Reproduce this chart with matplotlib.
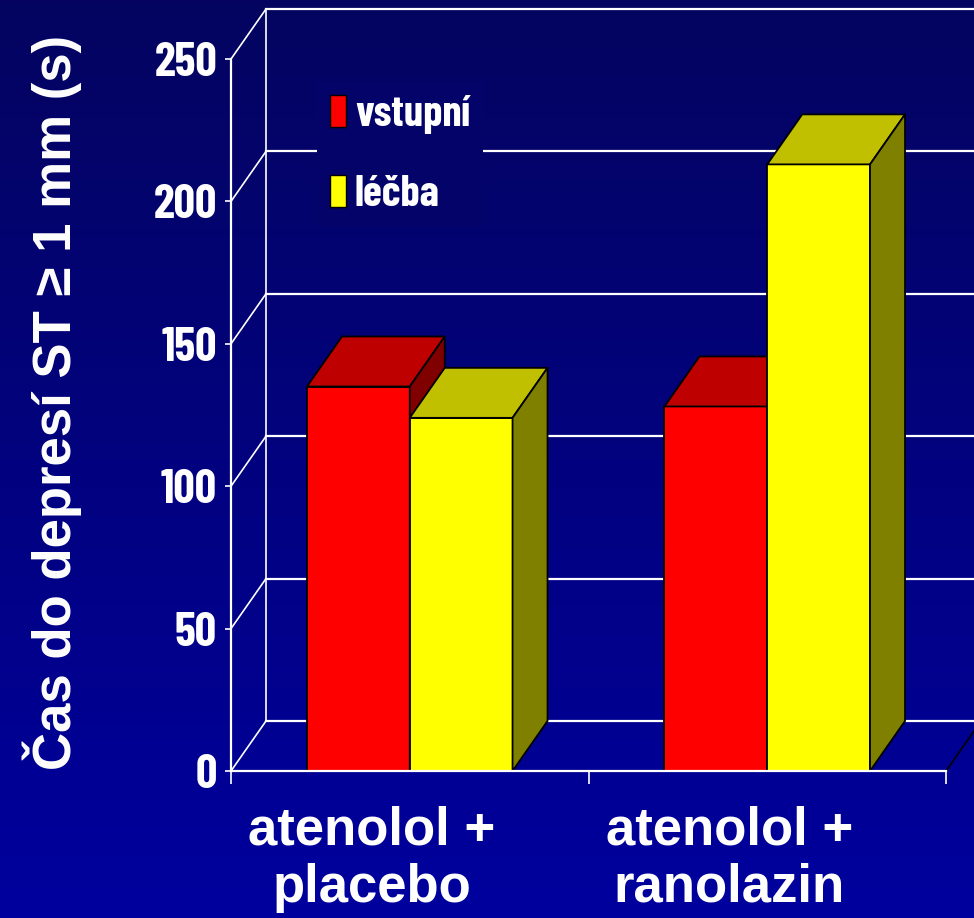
import numpy as np
import matplotlib
matplotlib.use("Agg")
import matplotlib.pyplot as plt
from matplotlib.patches import Polygon, Patch
from matplotlib.transforms import ScaledTranslation

categories = ["atenolol +\nplacebo", "atenolol +\nranolazin"]
series_names = ["vstupní", "léčba"]
baseline = [135, 128]   # vstupní
treatment = [124, 213]  # léčba
yticks = [0, 50, 100, 150, 200, 250]

front = ["#ff0000", "#ffff00"]
top = ["#bf0000", "#c0c000"]
side = ["#800000", "#808000"]

narrow = ["Barlow Condensed", "DejaVu Sans"]
wide = ["Liberation Sans", "DejaVu Sans"]

W, H = 974, 918
fig = plt.figure(figsize=(W / 100, H / 100), dpi=100)

# background gradient (dark navy at top, brighter blue at bottom)
c0 = np.array([4, 4, 96]) / 255
c1 = np.array([0, 0, 158]) / 255
t = np.linspace(0, 1, 256)[:, None]
grad = (c0 + (c1 - c0) * t)[:, None, :].repeat(2, axis=1)
bg = fig.add_axes([0, 0, 1, 1], zorder=-10)
bg.imshow(grad, aspect="auto", extent=[0, 1, 0, 1])
bg.axis("off")

ax = fig.add_axes([231 / W, (H - 771) / H, 715 / W, 712 / H])
ax.patch.set_alpha(0)
ax.set_xlim(0, 2)
ax.set_ylim(0, 250)

# depth of the 3d effect, in data units
DX = 35 / 715 * 2
DY = 50 / 712 * 250
gc = "white"
glw = 1.6

# back wall + left wall lines
for v in yticks:
    ax.plot([0, DX], [v, v + DY], color=gc, lw=1.2, clip_on=False, zorder=1)
    ax.plot([DX, 2 + DX + 0.2], [v + DY, v + DY], color=gc, lw=glw, clip_on=False, zorder=1)
ax.plot([DX, DX], [DY, 250 + DY], color=gc, lw=1.2, clip_on=False, zorder=1)
ax.plot([2, 2 + DX], [0, DY], color="black", lw=1.2, clip_on=False, zorder=1)

# bars with top and side faces
bw = 0.2875
vals = [baseline, treatment]
z = 3
for i in range(len(categories)):
    for j in range(2):
        h = vals[j][i]
        x0 = i + 0.5 - bw + j * bw
        ax.bar(x0, h, width=bw, align="edge", color=front[j], edgecolor="black",
               lw=1.3, zorder=z)
        ax.add_patch(Polygon([(x0, h), (x0 + bw, h), (x0 + bw + DX, h + DY), (x0 + DX, h + DY)],
                             closed=True, fc=top[j], ec="black", lw=1.3, zorder=z, clip_on=False))
        ax.add_patch(Polygon([(x0 + bw, 0), (x0 + bw + DX, DY), (x0 + bw + DX, h + DY), (x0 + bw, h)],
                             closed=True, fc=side[j], ec="black", lw=1.3, zorder=z, clip_on=False))
        z += 1

for s in ["top", "right"]:
    ax.spines[s].set_visible(False)
for s in ["left", "bottom"]:
    ax.spines[s].set_color("white")
    ax.spines[s].set_linewidth(1.6)
    ax.spines[s].set_zorder(20)

ax.set_yticks(yticks)
ax.tick_params(axis="y", colors="white", length=4, width=1.2, pad=6, labelsize=34)
for lb in ax.get_yticklabels():
    lb.set_family(narrow)
    lb.set_fontweight("bold")
ax.set_xticks([0, 1, 2])
ax.set_xticklabels([])
ax.tick_params(axis="x", colors="white", length=9, width=1.2)

# category labels
off = ScaledTranslation(-38 / 100, 0, fig.dpi_scale_trans)
for i, c in enumerate(categories):
    ax.text(i + 0.5, -0.048, c, transform=ax.get_xaxis_transform() + off,
            ha="center", va="top", color="white", fontsize=38, fontweight="bold",
            family=wide, linespacing=1.2, multialignment="center")

fig.text(52 / W, 1 - 402 / H, "Čas do depresí ST ≥ 1 mm (s)", rotation=90,
         ha="center", va="center", color="white", fontsize=38, fontweight="bold", family=wide)

legc = tuple(c0 + (c1 - c0) * (150 / H))
handles = [Patch(fc=front[0], ec="black"), Patch(fc=front[1], ec="black")]
leg = ax.legend(handles, series_names, loc="upper left",
                bbox_to_anchor=((317 - 231) / 715, (771 - 82) / 712),
                bbox_transform=ax.transAxes, borderaxespad=0, frameon=True,
                facecolor=legc, edgecolor="none", framealpha=1, fancybox=False,
                prop={"family": narrow, "weight": "bold", "size": 31},
                labelcolor="white", handlelength=0.38, handleheight=0.78,
                handletextpad=0.2, labelspacing=0.95, borderpad=0.3)
leg.set_zorder(2)

fig.savefig("out.png", dpi=100)
